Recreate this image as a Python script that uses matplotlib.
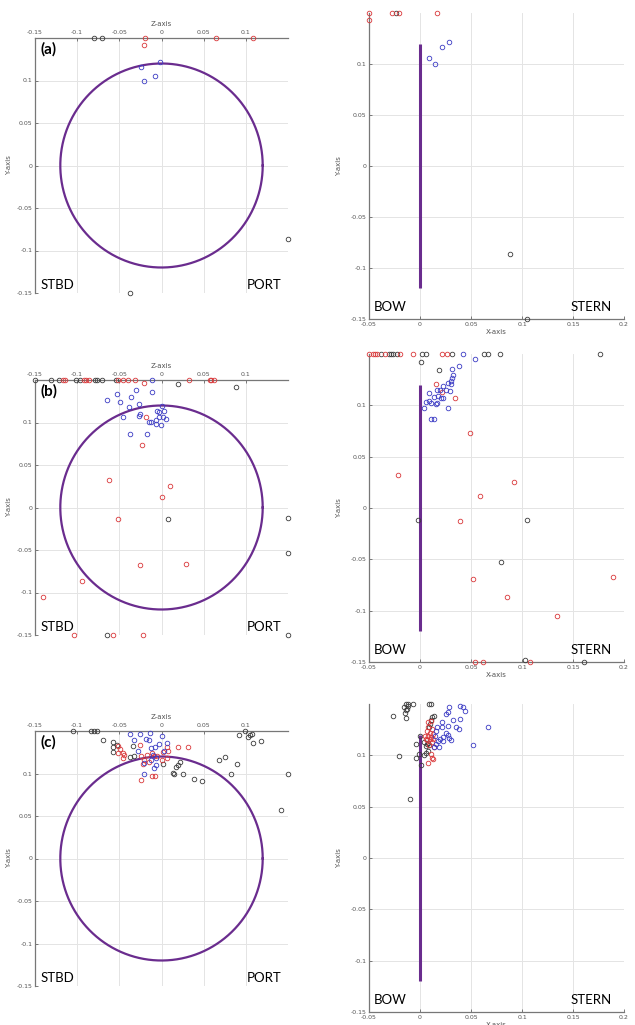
import numpy as np
import matplotlib
matplotlib.use("Agg")
import matplotlib.pyplot as plt

plt.rcParams['font.family'] = ['DejaVu Sans']

# ---- data (clamped to axis limits, as in the original plots) ----
HULL_R = 0.12

# panel (a): side view (Z, Y) and plan view (X, Y)
a_side_black = [(-0.080, 0.15), (-0.070, 0.15), (0.15, -0.087), (-0.037, -0.15)]
a_side_red = [(-0.020, 0.15), (-0.021, 0.1415), (0.065, 0.15), (0.108, 0.15)]
a_side_blue = [(-0.002, 0.1215), (-0.024, 0.1157), (-0.008, 0.105), (-0.021, 0.099)]

a_top_black = [(0.088, -0.086), (0.105, -0.15), (-0.024, 0.15)]
a_top_red = [(-0.05, 0.15), (-0.05, 0.143), (-0.027, 0.15), (-0.021, 0.15), (0.017, 0.15)]
a_top_blue = [(0.009, 0.106), (0.015, 0.100), (0.022, 0.117), (0.028, 0.122)]

# panel (b)
b_side_black = [(-0.150, 0.15), (-0.131, 0.15), (-0.121, 0.15), (-0.101, 0.15), (-0.097, 0.15),
                (-0.079, 0.15), (-0.076, 0.15), (-0.070, 0.15), (-0.054, 0.15),
                (0.019, 0.145), (0.088, 0.1415), (0.008, -0.013), (0.15, -0.012),
                (0.15, -0.053), (-0.065, -0.15), (0.15, -0.15)]
b_side_red = [(-0.117, 0.15), (-0.115, 0.15), (-0.092, 0.15), (-0.089, 0.15), (-0.086, 0.15),
              (-0.051, 0.15), (-0.046, 0.15), (-0.040, 0.15), (-0.031, 0.15), (-0.021, 0.147),
              (0.033, 0.15), (0.057, 0.15), (0.059, 0.15), (0.062, 0.15),
              (-0.018, 0.106), (-0.023, 0.073), (-0.062, 0.032), (0.010, 0.025), (0.001, 0.012),
              (-0.051, -0.013), (-0.025, -0.068), (0.029, -0.067), (-0.094, -0.087),
              (-0.140, -0.105), (-0.104, -0.15), (-0.058, -0.15), (-0.022, -0.15)]
b_side_blue = [(-0.011, 0.15), (-0.053, 0.134), (-0.030, 0.138), (-0.011, 0.136), (-0.065, 0.127),
               (-0.049, 0.124), (-0.036, 0.130), (-0.027, 0.122), (-0.039, 0.118), (0.001, 0.119),
               (0.003, 0.114), (-0.005, 0.114), (-0.003, 0.112), (-0.025, 0.110), (-0.027, 0.108),
               (-0.046, 0.106), (-0.003, 0.107), (0.002, 0.106), (0.005, 0.104), (-0.006, 0.103),
               (-0.012, 0.101), (-0.015, 0.101), (-0.006, 0.098), (-0.001, 0.097), (-0.037, 0.087),
               (-0.017, 0.087)]

b_top_black = [(-0.038, 0.15), (-0.030, 0.15), (-0.028, 0.15), (-0.026, 0.15), (-0.023, 0.15),
               (0.002, 0.15), (0.006, 0.15), (0.031, 0.15), (0.063, 0.15), (0.067, 0.15),
               (0.078, 0.15), (0.176, 0.15), (0.001, 0.142), (0.019, 0.134),
               (-0.002, -0.012), (0.105, -0.012), (0.079, -0.053), (0.103, -0.148), (0.161, -0.15)]
b_top_red = [(-0.050, 0.15), (-0.046, 0.15), (-0.044, 0.15), (-0.042, 0.15), (-0.034, 0.15),
             (-0.020, 0.15), (-0.007, 0.15), (0.022, 0.15), (0.026, 0.15),
             (0.016, 0.121), (0.022, 0.113), (0.034, 0.107), (0.049, 0.073), (-0.022, 0.032),
             (0.092, 0.025), (0.059, 0.012), (0.039, -0.013), (0.052, -0.069), (0.189, -0.067),
             (0.085, -0.087), (0.134, -0.105), (0.054, -0.15), (0.062, -0.15), (0.108, -0.15)]
b_top_blue = [(0.042, 0.15), (0.031, 0.135), (0.038, 0.138), (0.054, 0.145), (0.032, 0.130),
              (0.031, 0.127), (0.030, 0.124), (0.027, 0.122), (0.023, 0.119), (0.030, 0.121),
              (0.017, 0.115), (0.020, 0.115), (0.025, 0.115), (0.029, 0.114), (0.009, 0.112),
              (0.014, 0.108), (0.018, 0.109), (0.021, 0.107), (0.023, 0.107), (0.009, 0.104),
              (0.011, 0.102), (0.006, 0.103), (0.016, 0.101), (0.017, 0.102), (0.004, 0.097),
              (0.027, 0.097), (0.011, 0.087), (0.014, 0.087)]

# panel (c)
c_side_black = [(-0.105, 0.15), (-0.084, 0.15), (-0.080, 0.15), (-0.076, 0.15), (-0.069, 0.139),
                (0.099, 0.15), (0.092, 0.145), (0.103, 0.143), (0.107, 0.147), (0.105, 0.145),
                (0.118, 0.138), (0.109, 0.136), (0.150, 0.099), (0.142, 0.057), (0.068, 0.116),
                (0.075, 0.119), (0.090, 0.111), (0.083, 0.100), (0.038, 0.093), (0.048, 0.091),
                (0.025, 0.099), (0.014, 0.101), (0.017, 0.108), (0.019, 0.110), (0.022, 0.113),
                (0.015, 0.100), (0.002, 0.111), (-0.058, 0.137), (-0.057, 0.131), (-0.053, 0.133),
                (-0.058, 0.125), (-0.037, 0.120), (-0.033, 0.121), (-0.034, 0.132)]
c_side_red = [(-0.051, 0.132), (-0.049, 0.129), (-0.051, 0.124), (-0.046, 0.124), (-0.044, 0.122),
              (-0.046, 0.118), (-0.025, 0.133), (-0.024, 0.121), (-0.017, 0.122), (-0.021, 0.116),
              (-0.015, 0.113), (-0.022, 0.111), (0.007, 0.131), (0.008, 0.127), (0.002, 0.125),
              (0.020, 0.131), (0.001, 0.116), (0.006, 0.118), (-0.005, 0.121), (-0.024, 0.092),
              (-0.011, 0.097), (-0.008, 0.097), (-0.011, 0.124), (-0.009, 0.121), (0.031, 0.131)]
c_side_blue = [(-0.037, 0.147), (-0.025, 0.146), (-0.014, 0.148), (0.001, 0.144), (-0.033, 0.139),
               (-0.018, 0.141), (-0.015, 0.139), (0.007, 0.136), (-0.003, 0.135), (-0.008, 0.131),
               (-0.013, 0.130), (-0.028, 0.126), (0.003, 0.126), (-0.021, 0.112), (-0.007, 0.110),
               (-0.009, 0.107), (-0.021, 0.100), (-0.010, 0.122), (-0.006, 0.118), (-0.012, 0.116)]

c_top_black = [(-0.014, 0.15), (-0.012, 0.15), (-0.007, 0.15), (0.009, 0.15), (0.011, 0.15),
               (-0.016, 0.147), (-0.012, 0.148), (-0.014, 0.144), (-0.013, 0.145), (-0.015, 0.141),
               (-0.026, 0.138), (-0.014, 0.136), (0.014, 0.138), (0.012, 0.137), (0.011, 0.134),
               (0.000, 0.119), (-0.004, 0.111), (0.004, 0.113), (0.006, 0.109), (0.008, 0.112),
               (0.009, 0.110), (-0.001, 0.101), (0.004, 0.100), (0.006, 0.102), (0.008, 0.104),
               (-0.004, 0.097), (0.001, 0.091), (-0.021, 0.099), (-0.010, 0.057), (0.010, 0.131),
               (0.009, 0.128), (0.007, 0.111)]
c_top_red = [(0.008, 0.132), (0.011, 0.133), (0.008, 0.128), (0.012, 0.126), (0.007, 0.124),
             (0.010, 0.122), (0.013, 0.121), (0.008, 0.119), (0.011, 0.118), (0.005, 0.119),
             (0.010, 0.116), (0.013, 0.116), (0.007, 0.115), (0.012, 0.113), (0.009, 0.110),
             (0.008, 0.093), (0.012, 0.097), (0.013, 0.096), (0.011, 0.101), (0.014, 0.108),
             (0.006, 0.116)]
c_top_blue = [(0.039, 0.148), (0.042, 0.147), (0.044, 0.143), (0.028, 0.147), (0.025, 0.140),
              (0.027, 0.142), (0.032, 0.134), (0.039, 0.135), (0.035, 0.128), (0.038, 0.126),
              (0.067, 0.128), (0.022, 0.132), (0.017, 0.128), (0.022, 0.128), (0.027, 0.129),
              (0.016, 0.124), (0.025, 0.122), (0.027, 0.120), (0.028, 0.117), (0.030, 0.115),
              (0.023, 0.118), (0.020, 0.116), (0.023, 0.114), (0.018, 0.114), (0.015, 0.119),
              (0.016, 0.111), (0.019, 0.108), (0.052, 0.110), (0.014, 0.108)]

panel_tags = ['(a)', '(b)', '(c)']
side_ticks_x = [-0.15, -0.1, -0.05, 0, 0.05, 0.1]
side_ticks_y = [-0.15, -0.1, -0.05, 0, 0.05, 0.1]
top_ticks_x = [-0.05, 0, 0.05, 0.1, 0.15, 0.2]
top_ticks_y = [-0.15, -0.1, -0.05, 0, 0.05, 0.1]

side_data = [(a_side_black, a_side_red, a_side_blue),
             (b_side_black, b_side_red, b_side_blue),
             (c_side_black, c_side_red, c_side_blue)]
top_data = [(a_top_black, a_top_red, a_top_blue),
            (b_top_black, b_top_red, b_top_blue),
            (c_top_black, c_top_red, c_top_blue)]

# ---- layout (pixel boxes: left, top, right, bottom) ----
W, H = 635, 1025
side_boxes = [(35, 38, 288, 293), (35, 380, 288, 635), (35, 731, 288, 986)]
top_boxes = [(369, 13, 624, 319), (369, 354, 624, 662), (369, 704, 624, 1012)]

PURPLE = '#6a2c8e'
COLORS = ['#3a3a3a', '#d9383a', '#3b3bc4']
LABEL_FONT = ['Lato', 'DejaVu Sans']

fig = plt.figure(figsize=(W / 100, H / 100), dpi=100)


def add_box(box):
    x0, y0, x1, y1 = box
    return fig.add_axes([x0 / W, 1 - y1 / H, (x1 - x0) / W, (y1 - y0) / H])


def tick_fmt(v):
    return '0' if v == 0 else ('%g' % v)


def style(ax):
    ax.grid(True, color='#e4e4e4', linewidth=0.7)
    ax.set_axisbelow(True)
    ax.tick_params(direction='in', length=2, width=0.6, labelsize=4.5,
                   colors='#666666', labelcolor='#555555', pad=2)
    for s in ax.spines.values():
        s.set_color('#777777')
        s.set_linewidth(0.9)


def scatter_groups(ax, groups):
    for pts, c in zip(groups, COLORS):
        if not pts:
            continue
        xs, ys = zip(*pts)
        ax.plot(xs, ys, 'o', ms=3.3, mfc='none', mec=c, mew=0.6, clip_on=False, zorder=4)


theta = np.linspace(0, 2 * np.pi, 400)

for i in range(3):
    # side view: Z-axis on top, hull section circle
    ax = add_box(side_boxes[i])
    style(ax)
    ax.set_xlim(-0.15, 0.15)
    ax.set_ylim(-0.15, 0.15)
    ax.xaxis.tick_top()
    ax.xaxis.set_label_position('top')
    ax.set_xticks(side_ticks_x)
    ax.set_xticklabels([tick_fmt(v) for v in side_ticks_x])
    ax.set_yticks(side_ticks_y)
    ax.set_yticklabels([tick_fmt(v) for v in side_ticks_y])
    ax.spines['right'].set_visible(False)
    ax.spines['bottom'].set_visible(False)
    ax.set_xlabel('Z-axis', fontsize=5, color='#555555', labelpad=3)
    ax.set_ylabel('Y-axis', fontsize=5, color='#555555', labelpad=3)
    ax.plot(HULL_R * np.cos(theta), HULL_R * np.sin(theta), color=PURPLE, lw=1.6, zorder=3)
    scatter_groups(ax, side_data[i])
    ax.text(0.02, 0.955, panel_tags[i], transform=ax.transAxes, fontsize=11,
            fontweight='bold', va='center', ha='left', family=LABEL_FONT)
    ax.text(0.02, 0.03, 'STBD', transform=ax.transAxes, fontsize=9.5,
            va='center', ha='left', family=LABEL_FONT)
    ax.text(0.976, 0.03, 'PORT', transform=ax.transAxes, fontsize=9.5,
            va='center', ha='right', family=LABEL_FONT)

    # plan view: X-axis at bottom, keel line at x=0
    ax = add_box(top_boxes[i])
    style(ax)
    ax.set_xlim(-0.05, 0.2)
    ax.set_ylim(-0.15, 0.15)
    ax.set_xticks(top_ticks_x)
    ax.set_xticklabels([tick_fmt(v) for v in top_ticks_x])
    ax.set_yticks(top_ticks_y)
    ax.set_yticklabels([tick_fmt(v) for v in top_ticks_y])
    ax.spines['right'].set_visible(False)
    ax.spines['top'].set_visible(False)
    ax.set_xlabel('X-axis', fontsize=5, color='#555555', labelpad=1.5)
    ax.set_ylabel('Y-axis', fontsize=5, color='#555555', labelpad=6)
    ax.plot([0, 0], [-HULL_R, HULL_R], color=PURPLE, lw=2.2, zorder=3, solid_capstyle='butt')
    scatter_groups(ax, top_data[i])
    ax.text(0.02, 0.04, 'BOW', transform=ax.transAxes, fontsize=9.5,
            va='center', ha='left', family=LABEL_FONT)
    ax.text(0.953, 0.04, 'STERN', transform=ax.transAxes, fontsize=9.5,
            va='center', ha='right', family=LABEL_FONT)

fig.savefig('out.png', dpi=100)
